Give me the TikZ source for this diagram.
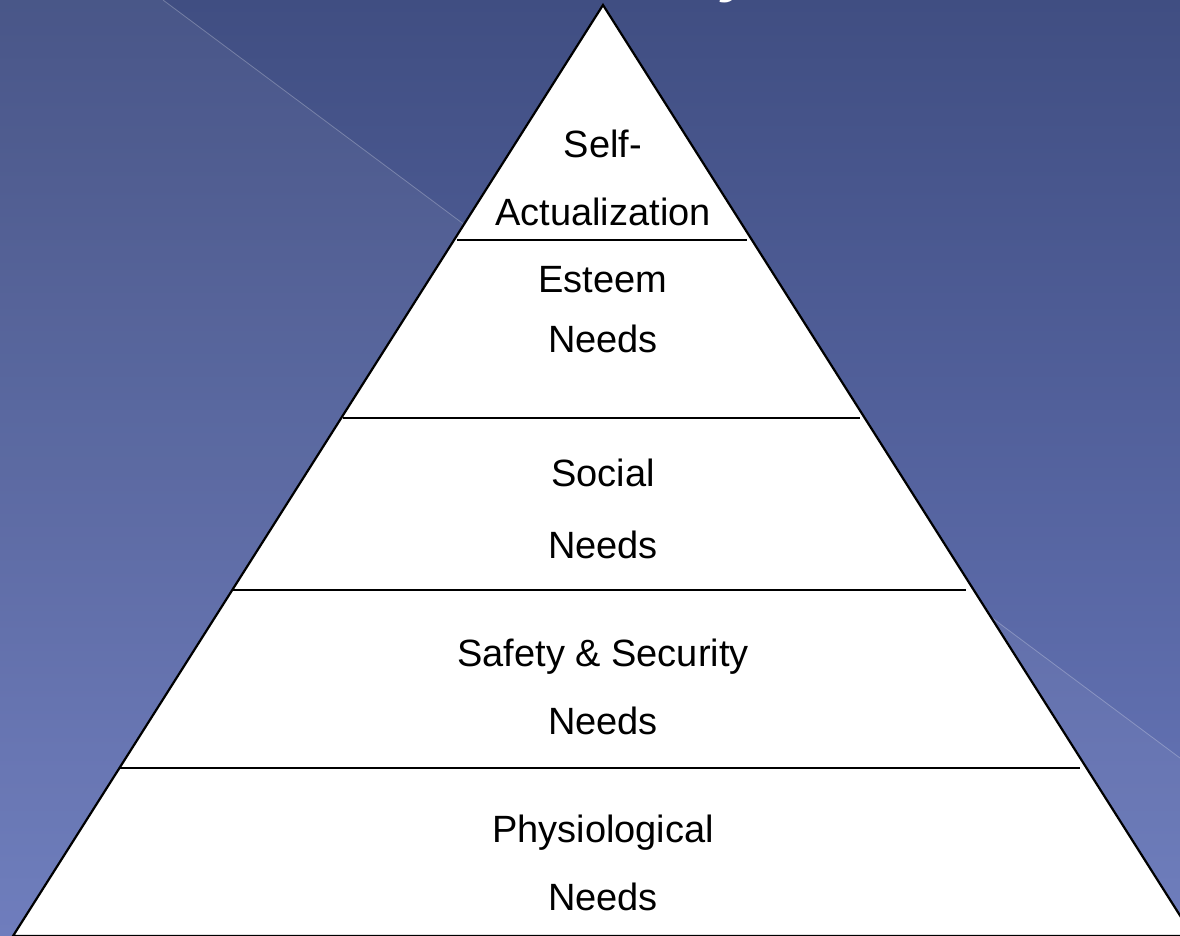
\documentclass[tikz,border=0pt]{standalone}
\usepackage{fontspec}
\setmainfont{Liberation Sans}
\definecolor{bgtop}{RGB}{64,78,130}
\definecolor{bgbottom}{RGB}{104,119,186}
\tikzset{
  tier/.style={align=center,font=\fontsize{19}{34}\selectfont},
  tierline/.style={line width=0.9pt},
}
\begin{document}
\begin{tikzpicture}[x=0.5pt,y=-0.5pt]
    \useasboundingbox (0,0) rectangle (1180,936);
    \clip (0,0) rectangle (1180,936);
    \shade[top color=bgtop,bottom color=bgbottom] (0,0) rectangle (1180,936);
    \fill[white,opacity=0.05] (0,0) -- (163,0) -- (1180,758) -- (1180,936) -- (0,936) -- cycle;
    \draw[white,opacity=0.25,line width=0.4pt] (163,0) -- (1180,758);

    % title, cut off at the top edge
    \node[anchor=base east,text=white,font=\fontsize{30}{36}\selectfont\bfseries\itshape] (title) at (763,-9) {Maslow's Hierarchy};

    % pyramid
    \coordinate (apex) at (603,5);
    \coordinate (baseL) at (13,936);
    \coordinate (baseR) at (1193,936);
    \draw[fill=white,line width=1.1pt,line join=miter] (apex) -- (baseL) -- (baseR) -- cycle;

    \draw[tierline] (457,240) -- (747,240);
    \draw[tierline] (343,418) -- (860,418);
    \draw[tierline] (232,590) -- (966,590);
    \draw[tierline] (120,768) -- (1080,768);

    \node[tier] (self) at (603,178) {Self-\\Actualization};
    \node[tier] (esteem) at (603,310) {Esteem\\[-4pt]Needs};
    \node[tier] (social) at (603,509) {Social\\[2pt]Needs};
    \node[tier] (safety) at (603,687) {Safety \& Security\\Needs};
    \node[tier] (physio) at (603,863) {Physiological\\Needs};
\end{tikzpicture}
\end{document}
